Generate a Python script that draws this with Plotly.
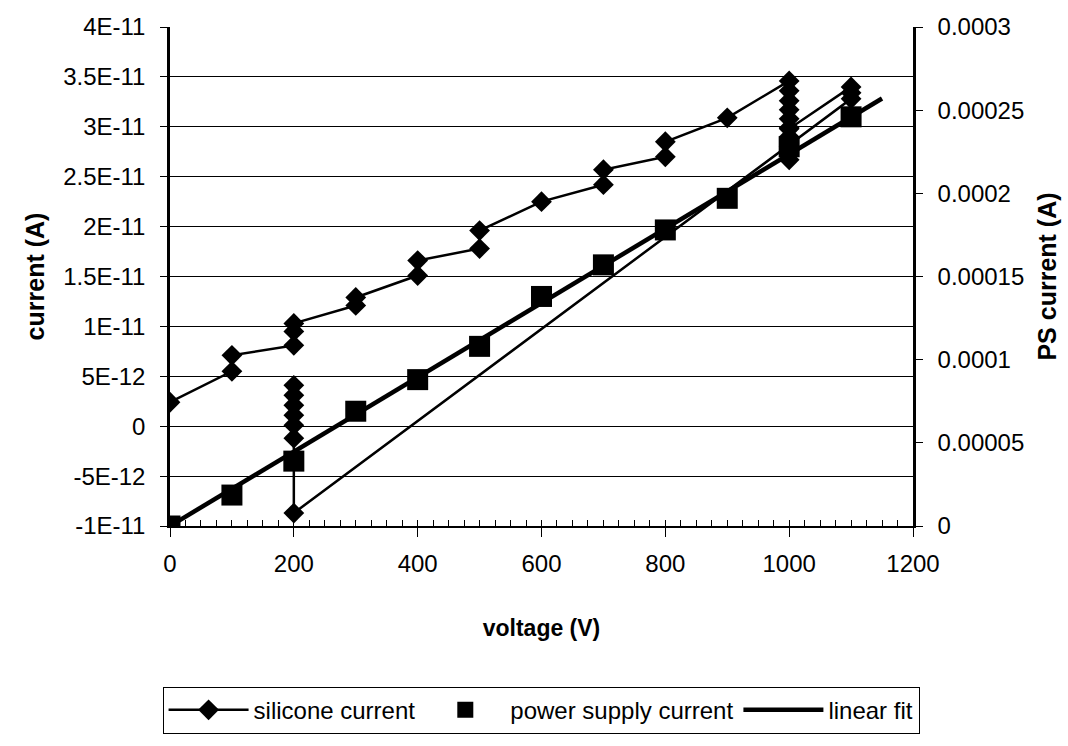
import plotly.graph_objects as go

# silicone current (left axis, A) in measurement order
si_v = [0, 100, 100, 200, 200, 200, 300, 300, 400, 400, 500, 500, 600, 700, 700, 800, 800, 900,
        1000, 1000, 1000, 1000, 1000, 1000, 1000, 1000, 1000, 1000,
        1100, 1100, 1100,
        200, 200, 200, 200, 200, 200, 200]
si_i = [2.4e-12, 5.5e-12, 7.1e-12, 8.1e-12, 9.5e-12, 10.3e-12, 12.1e-12, 12.9e-12, 15.1e-12, 16.6e-12,
        17.8e-12, 19.6e-12, 22.5e-12, 24.2e-12, 25.7e-12, 27.0e-12, 28.5e-12, 30.9e-12,
        34.6e-12, 33.6e-12, 32.6e-12, 31.7e-12, 30.8e-12, 29.9e-12, 29.0e-12, 28.0e-12, 26.7e-12, 29.8e-12,
        34.0e-12, 33.4e-12, 32.8e-12,
        -8.7e-12, -1.2e-12, 0.1e-12, 1.1e-12, 2.1e-12, 3.1e-12, 4.1e-12]

# power supply current (right axis, A)
ps_v = [0, 100, 200, 300, 400, 500, 600, 700, 800, 900, 1000, 1100]
ps_i = [0.0, 1.86e-5, 3.9e-5, 6.9e-5, 8.8e-5, 1.08e-4, 1.38e-4, 1.57e-4, 1.78e-4, 1.97e-4, 2.28e-4, 2.46e-4]

# linear fit of power supply current (end points)
fit_v = [0, 1150]
fit_i = [0.0, 2.57e-4]

left_vals = [4e-11, 3.5e-11, 3e-11, 2.5e-11, 2e-11, 1.5e-11, 1e-11, 5e-12, 0, -5e-12, -1e-11]
left_text = ["4E-11", "3.5E-11", "3E-11", "2.5E-11", "2E-11", "1.5E-11", "1E-11", "5E-12", "0", "-5E-12", "-1E-11"]
right_vals = [0.0003, 0.00025, 0.0002, 0.00015, 0.0001, 0.00005, 0]
right_text = ["0.0003", "0.00025", "0.0002", "0.00015", "0.0001", "0.00005", "0"]

FONT = "Arial, Liberation Sans, sans-serif"

fig = go.Figure()
fig.add_trace(go.Scatter(
    x=si_v, y=si_i, name="silicone current", mode="lines+markers",
    line=dict(color="black", width=2.5),
    marker=dict(symbol="diamond", size=16, color="black"),
))
fig.add_trace(go.Scatter(
    x=ps_v, y=ps_i, name="power supply current", mode="markers", yaxis="y2",
    marker=dict(symbol="square", size=21, color="black"),
))
fig.add_trace(go.Scatter(
    x=fit_v, y=fit_i, name="linear fit", mode="lines", yaxis="y2",
    line=dict(color="black", width=4.5),
))

fig.update_layout(
    width=1068, height=746,
    paper_bgcolor="white", plot_bgcolor="white",
    margin=dict(l=170, r=155, t=27, b=218),
    font=dict(family=FONT, size=24, color="black"),
    showlegend=True,
    legend=dict(
        orientation="h", x=-0.01, xanchor="left", y=-0.322, yanchor="top",
        bordercolor="black", borderwidth=1, font=dict(size=24),
        itemwidth=80,
    ),
    xaxis=dict(
        range=[0, 1200], tickmode="linear", tick0=0, dtick=200,
        ticks="outside", ticklen=9, tickwidth=1, tickcolor="black",
        showline=True, linecolor="black", linewidth=2, showgrid=False, zeroline=False,
        minor=dict(dtick=25, tick0=0, ticks="inside", ticklen=6, tickcolor="black", tickwidth=1, showgrid=False),
        ticklabelstandoff=6,
        title=dict(text="<b>voltage (V)</b>", font=dict(size=23), standoff=44),
        tickfont=dict(size=24), automargin=False,
    ),
    yaxis=dict(
        range=[-1e-11, 4e-11], tickvals=left_vals, ticktext=left_text,
        ticks="outside", ticklen=7, tickcolor="black",
        showline=True, linecolor="black", linewidth=2.5,
        showgrid=True, gridcolor="black", gridwidth=1, zeroline=False,
        ticklabelstandoff=10,
        title=dict(text="<b>current (A)</b>", font=dict(size=25), standoff=12),
        tickfont=dict(size=24), automargin=False,
    ),
    yaxis2=dict(
        range=[0, 0.0003], tickvals=right_vals, ticktext=right_text,
        overlaying="y", side="right",
        ticks="outside", ticklen=7, tickcolor="black",
        showline=True, linecolor="black", linewidth=2.5,
        showgrid=False, zeroline=False,
        ticklabelstandoff=10,
        title=dict(text="<b>PS current (A)</b>", font=dict(size=25), standoff=16),
        tickfont=dict(size=24), automargin=False,
    ),
)

fig.write_html("out.html", config={"displayModeBar": False},
               post_script="document.body.style.margin='0';")
